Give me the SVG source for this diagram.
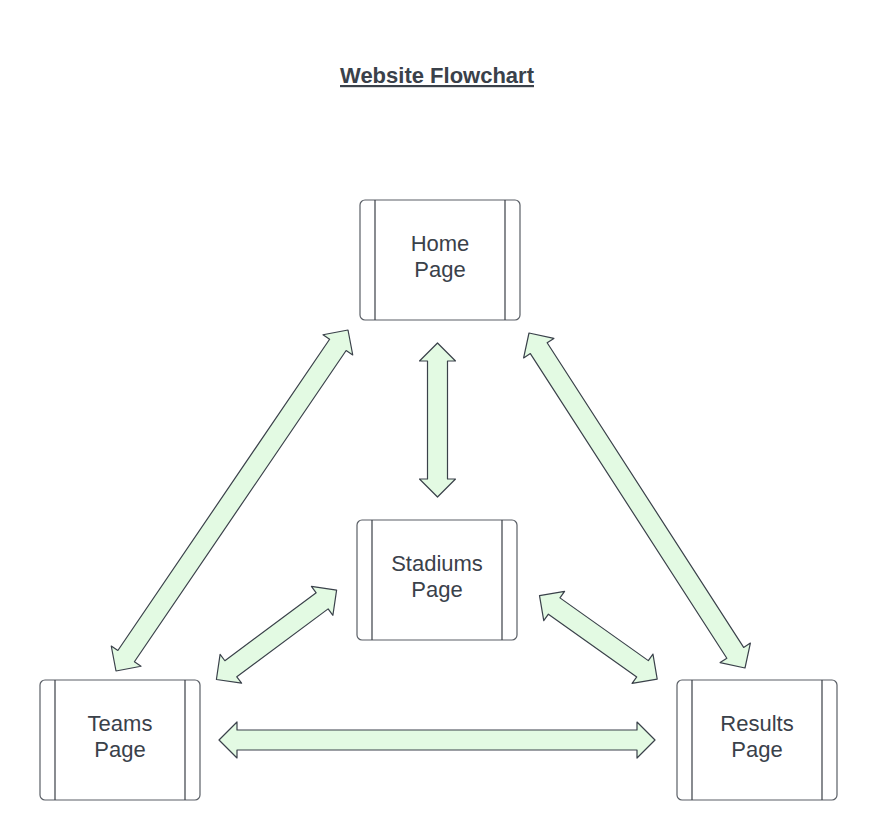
<svg xmlns="http://www.w3.org/2000/svg" width="877" height="840" viewBox="0 0 877 840">
<style>
.box{fill:#ffffff;stroke:#5a5f66;stroke-width:1.2}
.bar{stroke:#3a3f46;stroke-width:1.2}
.lbl{font-family:"Liberation Sans",Arial,sans-serif;font-size:22px;fill:#3a414a;text-anchor:middle}
.title{font-family:"Liberation Sans",Arial,sans-serif;font-size:22px;font-weight:bold;fill:#3a414a;text-anchor:middle;text-decoration:underline}
.arr{fill:#e3fae3;stroke:#3a414a;stroke-width:1.2;stroke-linejoin:round}
</style>
<rect width="877" height="840" fill="#ffffff"/>
<text class="title" x="437" y="83">Website Flowchart</text>
<g id="connectors">
<path class="arr" d="M348,330 L352.75,355.01 L346.14,350.51 L134.4,661.75 L141.01,666.25 L116,671 L111.25,645.99 L117.86,650.49 L329.6,339.25 L322.99,334.75 Z"/>
<path class="arr" d="M529,333 L553.88,338.38 L547.15,342.71 L743.65,647.45 L750.38,643.12 L745,668 L720.12,662.62 L726.85,658.29 L530.35,353.55 L523.62,357.88 Z"/>
<path class="arr" d="M437.5,343 L455.5,361 L447.5,361 L447.5,479 L455.5,479 L437.5,497 L419.5,479 L427.5,479 L427.5,361 L419.5,361 Z"/>
<path class="arr" d="M219,740 L237,722 L237,730 L637,730 L637,722 L655,740 L637,758 L637,750 L237,750 L237,758 Z"/>
<path class="arr" d="M336.6,590.1 L332.9,615.28 L328.13,608.86 L236.81,676.78 L241.58,683.2 L216.4,679.5 L220.1,654.32 L224.87,660.74 L316.19,592.82 L311.42,586.4 Z"/>
<path class="arr" d="M539.5,595.6 L564.59,591.35 L559.96,597.87 L648.32,660.63 L652.95,654.11 L657.2,679.2 L632.11,683.45 L636.74,676.93 L548.38,614.17 L543.75,620.69 Z"/>
</g>
<g id="home">
<rect class="box" x="360" y="200" width="160" height="120" rx="5"/>
<line class="bar" x1="375" y1="200" x2="375" y2="320"/>
<line class="bar" x1="505" y1="200" x2="505" y2="320"/>
<text class="lbl" x="440" y="251">Home</text>
<text class="lbl" x="440" y="277">Page</text>
</g>
<g id="stadiums">
<rect class="box" x="357" y="520" width="160" height="120" rx="5"/>
<line class="bar" x1="372" y1="520" x2="372" y2="640"/>
<line class="bar" x1="502" y1="520" x2="502" y2="640"/>
<text class="lbl" x="437" y="571">Stadiums</text>
<text class="lbl" x="437" y="597">Page</text>
</g>
<g id="teams">
<rect class="box" x="40" y="680" width="160" height="120" rx="5"/>
<line class="bar" x1="55" y1="680" x2="55" y2="800"/>
<line class="bar" x1="185" y1="680" x2="185" y2="800"/>
<text class="lbl" x="120" y="731">Teams</text>
<text class="lbl" x="120" y="757">Page</text>
</g>
<g id="results">
<rect class="box" x="677" y="680" width="160" height="120" rx="5"/>
<line class="bar" x1="692" y1="680" x2="692" y2="800"/>
<line class="bar" x1="822" y1="680" x2="822" y2="800"/>
<text class="lbl" x="757" y="731">Results</text>
<text class="lbl" x="757" y="757">Page</text>
</g>
</svg>
